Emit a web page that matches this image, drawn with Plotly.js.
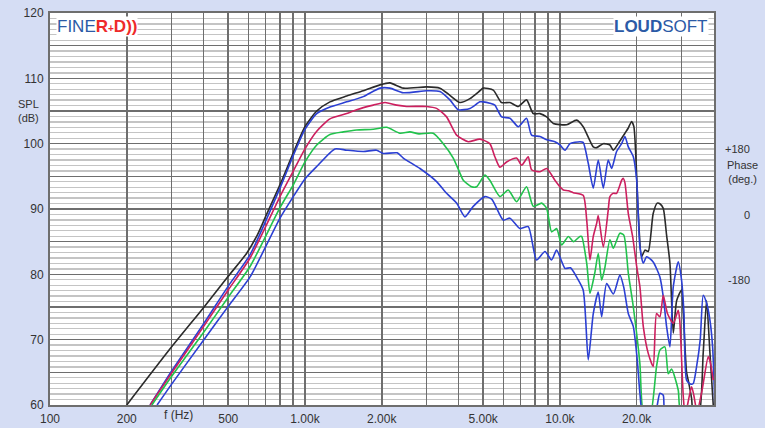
<!DOCTYPE html>
<html>
<head>
<meta charset="utf-8">
<script src="https://cdn.plot.ly/plotly-3.0.1.min.js"></script>
<style>
  html, body { margin: 0; padding: 0; background: #d5ddf4; }
  #chart { width: 765px; height: 428px; }
</style>
</head>
<body>
<div id="chart"></div>
<script>
// ---- Data (frequency in Hz, SPL in dB) ----
const blackF  = [200, 300, 400, 500, 590, 650, 700, 800, 900, 1000, 1112, 1253, 1458, 1693, 1968, 2154, 2430, 3000, 3383, 3703, 4053, 4436, 4854, 5003, 5475, 5902, 6365, 6863, 7396, 7860, 8350, 8870, 9418, 10626, 11623, 12335, 13513, 13932, 14794, 15703, 16180, 17180, 17988, 18540, 19098, 19500, 20280, 20900, 21550, 22200, 23210, 24080, 24660, 25420, 26200, 27000, 27830, 28700, 29990, 30460, 31380, 31850, 32830, 33500, 35000, 36470, 37590, 38750, 39930];
const blackDB = [60, 68.9, 74.9, 79.7, 83.2, 86, 88.8, 93.8, 98.6, 102.6, 105.0, 106.4, 107.3, 108.1, 109, 109.3, 108.5, 108.7, 108.5, 107.4, 106.3, 106.9, 108.1, 108.5, 108.2, 106.3, 106.3, 105.7, 106.7, 104.6, 104.6, 104.1, 103.1, 102.9, 103.6, 102.6, 99.5, 99.4, 100, 99.8, 99, 100.4, 101.6, 102.4, 103.4, 102.6, 89.4, 82.7, 83.7, 83.5, 89.3, 90.9, 90.8, 90.1, 86, 81.7, 71, 76, 77.6, 74, 65, 63.8, 61, 58, 58, 68, 76, 68, 60];

const blueTopF  = [247, 300, 400, 500, 609, 798, 900, 1000, 1112, 1253, 1458, 1693, 1968, 2154, 2430, 3000, 3383, 3703, 3993, 4436, 4854, 5003, 5309, 5556, 5902, 6365, 6863, 7396, 7740, 8350, 8870, 9556, 10000, 10472, 10945, 11972, 12335, 12913, 13513, 14133, 14794, 15462, 15947, 16680, 17460, 17988, 18540, 19400, 20000, 20590, 21230, 21880, 23210, 24660, 25420, 26200, 27000, 27830, 29100, 29990, 30640, 31380, 32500, 33330, 34360, 35500, 36470, 37590, 38750, 39700, 40500];
const blueTopDB = [60, 65.2, 72.4, 78.2, 83, 93.2, 98.2, 102.2, 104.6, 105.6, 106.4, 107.2, 108.5, 108.5, 107.8, 108.1, 108, 106.7, 105.2, 105.4, 106.4, 106.4, 106.2, 105.9, 104.1, 103.9, 102.6, 103.9, 101.3, 101.1, 100.6, 100.3, 99.8, 99, 100, 100.3, 100.2, 97, 93.2, 97.5, 93.2, 97.5, 96.2, 98.8, 100, 101.1, 99.5, 98, 94.4, 84.2, 81.7, 82.7, 81.9, 79.6, 76.6, 72, 68.9, 78.1, 81.9, 79.1, 74.1, 63.8, 63.2, 63.3, 65.9, 70, 76.8, 75.6, 73, 68.9, 60];

const redF  = [247, 300, 400, 500, 609, 798, 900, 1000, 1112, 1253, 1458, 1595, 1853, 2060, 2290, 2504, 3000, 3283, 3593, 3933, 4370, 4854, 5309, 5556, 5816, 6177, 6761, 7080, 7510, 7740, 8350, 8870, 9556, 10000, 10313, 10800, 11275, 12335, 12735, 13115, 13513, 13932, 14133, 14794, 15462, 15703, 16180, 16680, 17460, 17706, 17988, 18540, 19275, 20000, 20590, 21230, 22200, 23210, 23930, 24660, 25420, 26400, 27830, 29100, 29500, 30460, 31000, 32830, 33500, 34500, 36000, 38160, 38900, 39930];
const redDB = [60, 64.9, 72, 77.6, 82.5, 91.9, 95.8, 99.2, 101.9, 103.8, 104.6, 105.2, 105.9, 106.3, 105.9, 105.7, 105.7, 105.4, 104.1, 101.3, 100.3, 100.7, 100, 98, 96.4, 97.2, 97.8, 96.7, 98, 96, 95.7, 96.2, 94.4, 93.4, 92.9, 92.8, 92.5, 92.1, 88.3, 82.2, 85.8, 87.8, 89, 84.2, 89.8, 91.9, 92.4, 92.4, 94.4, 94.7, 94, 89.3, 85.8, 81.2, 78.1, 72, 67.9, 65.9, 74, 73.5, 76.8, 74, 72.5, 74.5, 73, 61.3, 58.5, 62.8, 61.5, 59, 62, 67.4, 66.5, 63.8];

const greenF  = [251, 300, 400, 500, 609, 798, 900, 1000, 1112, 1253, 1414, 1595, 1853, 2091, 2358, 2580, 2800, 3184, 3486, 3816, 4053, 4177, 4506, 4710, 5079, 5309, 5816, 6270, 6761, 7396, 7860, 8475, 8870, 9270, 9705, 10161, 10790, 11300, 11972, 12165, 12735, 13115, 13700, 14133, 14574, 15000, 15703, 16200, 17180, 17800, 18540, 19400, 20590, 21200, 22500, 23930, 24660, 25810, 26590, 27400, 29100, 29800, 36000, 39930];
const greenDB = [60, 64.4, 71.1, 76.5, 81.2, 90.2, 93.7, 97.2, 99.8, 101.4, 101.8, 102.1, 102.2, 102.5, 101.6, 101.8, 101.5, 101.6, 100, 97.8, 95.5, 94.4, 93.4, 93.4, 95.2, 94.4, 91.9, 92.9, 91.1, 93.4, 90.4, 90.9, 90.1, 86.5, 87, 84.5, 85.8, 85, 85.8, 85.8, 81.7, 77.1, 80.2, 83.2, 79.1, 81, 85.3, 84, 86.3, 86, 80.2, 75, 66.3, 59, 58, 65.9, 68.4, 68.9, 64.8, 65.5, 62.3, 59, 58, 59];

const blueLowF  = [263, 300, 400, 500, 609, 798, 900, 1000, 1112, 1311, 1458, 1693, 1910, 2028, 2300, 2430, 2825, 3283, 3593, 3933, 4240, 4571, 5079, 5400, 5992, 6365, 6970, 7510, 8094, 8735, 9270, 9705, 10472, 11000, 11623, 12335, 12913, 13513, 14133, 14574, 15245, 16200, 17180, 17800, 18540, 19400, 20100, 20590, 21200, 23500, 24660, 25420, 26000, 39930];
const blueLowDB = [60, 63.2, 69.9, 75.1, 79.6, 88.6, 91.9, 94.6, 96.5, 99.2, 99, 98.8, 99, 98.5, 98.6, 97.8, 96.2, 94.2, 92.4, 90.9, 88.8, 90.4, 91.9, 91.5, 88.3, 88.6, 87, 87.3, 82.2, 83.5, 82.2, 83.7, 80.9, 81, 79.6, 77.6, 66.9, 74, 77.3, 73.5, 78.6, 77, 79.9, 78, 74, 72, 66.9, 61.8, 58.5, 58.5, 61.8, 61.5, 58.5, 58.5];

// Axis ticks
const xTickVals = [100,200,300,400,500,600,700,800,900,1000,2000,3000,4000,5000,6000,7000,8000,9000,10000,20000,30000,40000];
const xTickText = ['100','200','','','500','','','','','1.00k','2.00k','','','5.00k','','','','','10.0k','20.0k','',''];
const yTickVals = [60,65,70,75,80,85,90,95,100,105,110,115,120];
const yTickText = ['60','','70','','80','','90','','100','','110','','120'];

const series = [
  {name: 'black', x: blackF, y: blackDB, color: '#2a2a2a'},
  {name: 'blue1', x: blueTopF, y: blueTopDB, color: '#2b3fd3'},
  {name: 'red', x: redF, y: redDB, color: '#cc1f5e'},
  {name: 'green', x: greenF, y: greenDB, color: '#21c24c'},
  {name: 'blue2', x: blueLowF, y: blueLowDB, color: '#2b3fd3'}
];

const traces = series.map(s => ({
  type: 'scatter', mode: 'lines', x: s.x, y: s.y, name: s.name,
  line: {color: s.color, width: 1.6, shape: 'spline', smoothing: 0.6},
  hoverinfo: 'skip', showlegend: false
}));

// pixel helpers for annotation placement (plot area 50..714 x, 13..405 y)
const L = 50, R = 714, T = 13, B = 405;
const px = v => (v - L) / (R - L);
const py = v => (B - v) / (B - T);

const fontFam = '"Liberation Sans", Arial, sans-serif';
const layout = {
  width: 765, height: 428,
  margin: {l: L, r: 765 - R, t: T, b: 428 - B, pad: 0},
  paper_bgcolor: '#d5ddf4',
  plot_bgcolor: '#ffffff',
  font: {family: fontFam, size: 12, color: '#333333'},
  showlegend: false,
  xaxis: {
    type: 'log', range: [2, Math.log10(40200)],
    tickmode: 'array', tickvals: xTickVals, ticktext: xTickText,
    showgrid: true, gridcolor: '#6e6e6e', gridwidth: 1.6,
    showline: true, mirror: true, linecolor: '#6e6e6e', linewidth: 2,
    ticks: '', zeroline: false, tickfont: {size: 12, color: '#333'},
    ticklabelstandoff: 2
  },
  yaxis: {
    range: [60, 120],
    tickmode: 'array', tickvals: yTickVals, ticktext: yTickText,
    showgrid: true, gridcolor: '#6e6e6e', gridwidth: 1.6,
    minor: {tick0: 60, dtick: 5/6, showgrid: true, gridcolor: '#c4c4c4', gridwidth: 1.4, ticks: ''},
    showline: true, mirror: true, linecolor: '#6e6e6e', linewidth: 2,
    ticks: '', zeroline: false, tickfont: {size: 12, color: '#333'},
    ticklabelstandoff: 2
  },
  annotations: [
    {xref: 'paper', yref: 'paper', x: px(28), y: py(111), text: 'SPL<br>(dB)', showarrow: false,
     font: {size: 11, color: '#333'}, xanchor: 'center', yanchor: 'middle'},
    {xref: 'paper', yref: 'paper', x: px(742), y: py(172), text: 'Phase<br>(deg.)', showarrow: false,
     font: {size: 11, color: '#333'}, xanchor: 'center', yanchor: 'middle'},
    {xref: 'paper', yref: 'paper', x: px(752), y: py(149), text: '+180', showarrow: false,
     font: {size: 11, color: '#333'}, xanchor: 'right', yanchor: 'middle'},
    {xref: 'paper', yref: 'paper', x: px(752), y: py(215), text: '0', showarrow: false,
     font: {size: 11, color: '#333'}, xanchor: 'right', yanchor: 'middle'},
    {xref: 'paper', yref: 'paper', x: px(752), y: py(280), text: '-180', showarrow: false,
     font: {size: 11, color: '#333'}, xanchor: 'right', yanchor: 'middle'},
    {xref: 'paper', yref: 'paper', x: px(178), y: py(415), text: 'f (Hz)', showarrow: false,
     font: {size: 12, color: '#333'}, xanchor: 'center', yanchor: 'middle'},
    {xref: 'paper', yref: 'paper', x: px(56), y: py(27),
     text: '<span style="color:#2b5aa6">FINE</span><b style="color:#ee2a2a">R<span style="font-size:10px">+</span>D))</b>',
     showarrow: false, font: {size: 17, family: fontFam}, xanchor: 'left', yanchor: 'middle',
     bgcolor: '#ffffff', borderpad: 0},
    {xref: 'paper', yref: 'paper', x: px(709), y: py(27),
     text: '<b>LOUD</b>SOFT', showarrow: false, font: {size: 17, color: '#2b5aa6', family: fontFam},
     xanchor: 'right', yanchor: 'middle', bgcolor: '#ffffff', borderpad: 0}
  ]
};

Plotly.newPlot('chart', traces, layout, {staticPlot: true, displayModeBar: false});
</script>
</body>
</html>
